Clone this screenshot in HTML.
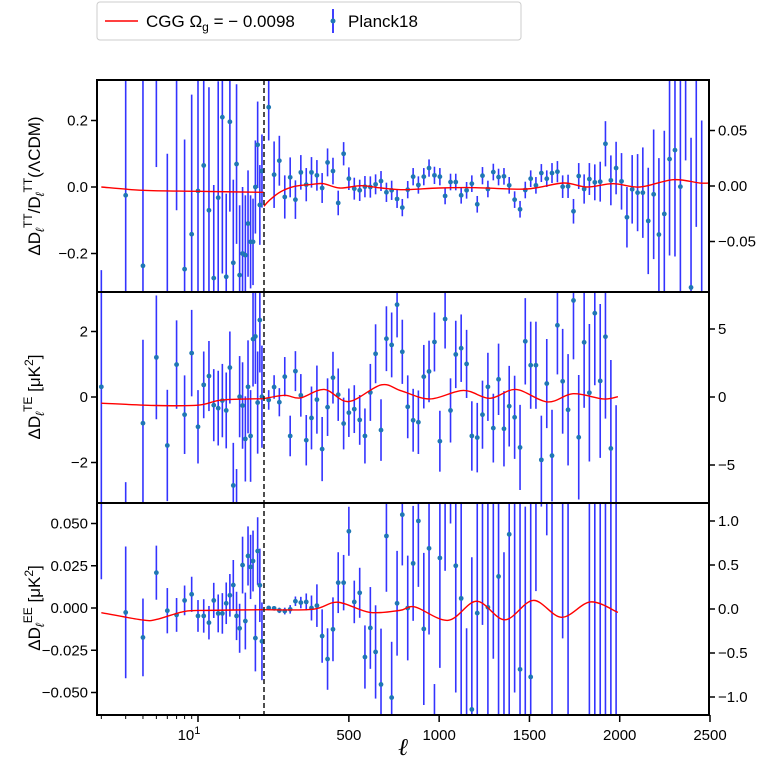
<!DOCTYPE html>
<html><head><meta charset="utf-8">
<style>
html,body{margin:0;padding:0;background:#fff;width:773px;height:765px;overflow:hidden;}
svg{display:block;overflow:hidden;font-family:"Liberation Sans","DejaVu Sans",sans-serif;}
</style></head>
<body>
<svg id="chart" width="773" height="765" viewBox="0 0 773 765" xmlns="http://www.w3.org/2000/svg">
  <defs>
    <clipPath id="clip-tt"><rect x="97" y="80" width="612" height="212"/></clipPath>
    <clipPath id="clip-te"><rect x="97" y="292" width="612" height="211"/></clipPath>
    <clipPath id="clip-ee"><rect x="97" y="503" width="612" height="212"/></clipPath>
  </defs>
  <g>
    <rect x="97" y="2" width="424" height="38" rx="3" fill="#fff" stroke="#ccc" stroke-width="1"/>
    <line x1="105" y1="21" x2="138" y2="21" stroke="red" stroke-width="1.5"/>
    <text x="146" y="27" font-size="17">CGG Ω<tspan font-size="12" dy="4">g</tspan><tspan dy="-4"> = − 0.0098</tspan></text>
    <line x1="333" y1="9" x2="333" y2="33" stroke="blue" stroke-width="1.5"/>
    <circle cx="333" cy="21" r="2.5" fill="#1f77b4"/>
    <text x="348" y="27" font-size="17">Planck18</text>
  </g>
  <g id="plots"></g>
  <text x="40" y="186" font-size="17" text-anchor="middle" transform="rotate(-90 40 186)">ΔD<tspan font-size="12" dy="4" font-style="italic">ℓ</tspan><tspan font-size="12" dy="-12">TT</tspan><tspan dy="8">/D</tspan><tspan font-size="12" dy="4" font-style="italic">ℓ</tspan><tspan font-size="12" dy="-12">TT</tspan><tspan dy="8">(ΛCDM)</tspan></text>
  <text x="40" y="397" font-size="17" text-anchor="middle" transform="rotate(-90 40 397)">ΔD<tspan font-size="12" dy="4" font-style="italic">ℓ</tspan><tspan font-size="12" dy="-12">TE</tspan><tspan dy="8"> [μK</tspan><tspan font-size="12" dy="-7">2</tspan><tspan dy="7">]</tspan></text>
  <text x="40" y="608" font-size="17" text-anchor="middle" transform="rotate(-90 40 608)">ΔD<tspan font-size="12" dy="4" font-style="italic">ℓ</tspan><tspan font-size="12" dy="-12">EE</tspan><tspan dy="8"> [μK</tspan><tspan font-size="12" dy="-7">2</tspan><tspan dy="7">]</tspan></text>
  <text x="403" y="755" font-size="24" font-style="italic" text-anchor="middle" font-family="Liberation Serif, serif">ℓ</text>
</svg>
<script>
// ---- data ----
const lLow = [2,3,4,5,6,7,8,9,10,11,12,13,14,15,16,17,18,19,20,21,22,23,24,25,26,27,28,29];
const lBins = [56,86,115,145,175,204,234,264,293,323,352,382,412,441,471,500,530,560,589,619,648,678,708,737,767,796,826,856,885,915,944,974,1004,1033,1063,1092,1122,1152,1181,1211,1240,1270,1300,1329,1359,1388,1418,1448,1477,1507,1536,1566,1596,1625,1655,1684,1714,1744,1773,1803,1832,1862,1892,1921,1951,1980,2010,2040,2069,2099,2128,2158,2188,2217,2247,2276,2306,2336,2365,2395,2424,2454];

const ttLow = [-0.45,-0.025,-0.237,0.45,-0.35,0.4,-0.247,-0.142,-0.012,0.065,-0.07,-0.274,-0.032,0.21,-0.27,0.196,-0.228,0.069,-0.265,-0.2,-0.205,-0.11,-0.165,-0.165,0.0,0.127,-0.054,0.048];
const ttLowErr = [0.2,0.6,0.6,0.39,0.45,0.47,0.39,0.42,0.5,0.45,0.37,0.28,0.35,0.47,0.25,0.27,0.25,0.24,0.21,0.2,0.18,0.16,0.14,0.13,0.14,0.13,0.12,0.11];
const ttHigh = [0.24,0.037,0.079,-0.03,0.029,-0.038,0.044,0.007,0.044,0.035,-0.003,0.074,0.048,-0.048,0.1,0.025,-0.005,-0.01,0.001,0,0.008,0.018,-0.016,-0.01,-0.036,-0.062,
-0.008,0.031,0.006,0.031,0.057,0.035,0.031,-0.027,0.015,0.015,-0.025,-0.01,0.01,-0.052,0.034,-0.006,0.045,0.03,0.032,0.005,-0.038,-0.067,-0.009,0.025,0.005,0.042,0.025,0.042,0.046,0.001,0.002,-0.073,0.033,-0.006,0.024,0.014,0.016,0.13,0.02,0.057,0.017,-0.091,-0.007,-0.017,-0.017,-0.102,-0.022,-0.143,-0.081,0.084,0.111,0.001,0.45,-0.302,0.4,-0.4];
const ttHighErr = [0.1,0.1,0.075,0.065,0.06,0.058,0.052,0.05,0.046,0.046,0.045,0.042,0.04,0.037,0.035,0.034,0.033,0.032,0.032,0.032,0.03,0.03,0.029,0.029,0.027,0.026,
0.026,0.026,0.026,0.026,0.026,0.026,0.026,0.025,0.025,0.025,0.025,0.025,0.025,0.025,0.026,0.025,0.025,0.025,0.025,0.025,0.025,0.025,0.025,0.025,0.025,0.027,0.025,0.03,0.032,0.034,0.035,0.037,0.039,0.044,0.048,0.054,0.06,0.068,0.075,0.079,0.085,0.091,0.103,0.116,0.136,0.16,0.195,0.23,0.25,0.29,0.32,0.35,0.37,0.45,0.52,0.6];

const teLow = [0.31,-5,-0.8,1.21,-1.48,0.99,-0.54,1.34,-0.91,0.37,0.64,-0.25,-0.34,-0.11,-0.41,0.9,-2.7,-4,0.01,-0.26,-1.28,0.31,-1.19,1.77,1.85,-0.17,2.35,0.01];
const teLowErr = [4,2.4,2.55,1.89,1.7,1.35,1.2,1.32,1.12,1.02,1.07,1.1,1.14,1.12,1.16,1.1,1.3,1.8,1.24,1.32,1.3,1.42,1.4,1.45,1.45,1.56,1.6,1.56];
const teHigh = [-0.09,0.305,-0.16,0.62,-1.19,0.79,0.05,-1.32,-0.64,-0.08,-1.59,-0.31,0.59,0.07,-0.81,-0.48,-0.37,-0.7,-1.19,0.14,1.32,-1.01,1.78,1.59,2.82,1.38,
-0.3,-0.71,-0.77,0.62,0.78,1.68,-1.35,2.38,-0.41,1.3,1.49,1.01,-1.19,-1.24,-0.54,0.31,-0.95,0.54,-0.97,-0.28,-0.62,-1.54,1.7,0.97,0.97,-1.92,0.41,-1.79,2.19,0.48,-0.39,2.95,-1.23,1.67,0.13,2.56,0.49,1.84,-1.57,-3.3];
const teHighErr = [0.3,0.36,0.43,0.6,0.62,0.61,0.65,0.77,0.96,1.04,0.98,0.88,0.79,0.8,0.79,0.74,0.73,0.76,0.84,0.87,0.9,0.94,0.99,0.99,1.0,0.98,
0.96,0.96,0.97,0.97,0.94,0.9,0.93,0.9,0.98,1.03,1.03,1.04,1.06,1.06,1.04,1.04,1.05,1.09,1.15,1.23,1.27,1.3,1.32,1.33,1.33,1.35,1.36,1.4,1.5,1.6,1.7,1.8,1.9,2.0,2.1,2.2,2.35,2.5,2.7,3.05];

const eeLow = [0.07,-0.0026,-0.0174,0.0209,-0.0016,-0.0041,0.0045,0.0081,-0.0047,-0.0047,-0.0087,0.0045,-0.0032,-0.0032,0.0028,0.0075,0.0136,-0.0047,-0.012,0.0254,-0.0077,0.0308,0.0243,0.0278,-0.0178,0.0337,0.0134,-0.0197];
const eeLowErr = [0.053,0.039,0.023,0.016,0.0134,0.01,0.0088,0.0104,0.0094,0.0099,0.0099,0.0104,0.0112,0.012,0.0123,0.0126,0.0148,0.0143,0.0145,0.0168,0.0168,0.0175,0.019,0.018,0.0197,0.02,0.0217,0.023];
const eeHigh = [0,-0.0002,-0.0014,-0.0018,-0.0008,0.004,0.0032,0.0036,0,0.0014,-0.0166,-0.0302,-0.0126,0.015,0.015,0.0454,0.0036,0.009,-0.029,-0.0118,-0.026,-0.0452,0.0426,-0.053,0.0028,0.0552,
0,0.0264,0.0515,-0.0124,0.0353,-0.1,0.0296,0.09,0.12,0.025,0.0057,-0.09,-0.06,-0.003,0.09,0.0004,0.08,0.0187,-0.08,0.0436,0.07,-0.0363,-0.07,-0.0408,0.15,0.2,0.19,0.1,0.22,0.14,-0.1,0.3,0.3,0.3,-0.1,0.1,-0.08,0.09,-0.1,0.1];
const eeHighErr = [0.0013,0.0013,0.0016,0.002,0.0025,0.0028,0.0034,0.005,0.0074,0.0126,0.0158,0.0182,0.0189,0.018,0.0164,0.0145,0.0126,0.0148,0.0187,0.0242,0.0276,0.033,0.033,0.033,0.031,0.03,
0.031,0.034,0.039,0.045,0.051,0.055,0.065,0.068,0.07,0.075,0.08,0.078,0.09,0.09,0.1,0.1,0.11,0.1,0.113,0.11,0.12,0.12,0.13,0.13,0.14,0.14,0.147,0.17,0.15,0.158,0.17,0.16,0.17,0.17,0.2,0.2,0.22,0.23,0.25,0.26];

// model curves
const ttModelL = [2,4,10,29.9,30,60,120,200,300,360,450,570,680,808,1000,1200,1484,1687,1816,1963,2112,2296,2444,2500];
const ttModelV = [0,-0.01,-0.013,-0.016,-0.058,-0.04,-0.015,0.002,0.008,0.01,-0.003,0.004,-0.003,-0.008,-0.003,-0.002,-0.006,0.012,0.0,0.01,0.0,0.022,0.012,0.012];
const teModelL = [2,5,10,15,29.9,30,145,230,364,499,678,790,949,1134,1281,1425,1600,1742,1908,1990];
const teModelV = [-0.19,-0.26,-0.25,-0.09,-0.05,-0.05,0.05,-0.03,0.23,-0.14,0.37,0.19,-0.06,0.2,-0.04,0.23,-0.15,0.1,-0.06,0.01];
const eeModelL = [2,4,5,8,12,29.9,30,300,438,616,783,866,1050,1207,1364,1521,1678,1838,1990];
const eeModelV = [-0.0028,-0.0071,-0.0068,-0.002,-0.0014,-0.001,-0.001,-0.0008,0.0034,-0.0026,-0.0014,0.0006,-0.0073,0.004,-0.007,0.0045,-0.0055,0.0036,-0.0026];

const ttLeftTicks = [0.2,0.0,-0.2];
const ttLeftLabels = ["0.2","0.0","−0.2"];
const ttRightTicks = [0.05,0,-0.05];
const ttRightLabels = ["0.05","0.00","−0.05"];
const teLeftTicks = [2,0,-2];
const teLeftLabels = ["2","0","−2"];
const teRightTicks = [5,0,-5];
const teRightLabels = ["5","0","−5"];
const eeLeftTicks = [0.05,0.025,0,-0.025,-0.05];
const eeLeftLabels = ["0.050","0.025","0.000","−0.025","−0.050"];
const eeRightTicks = [1,0.5,0,-0.5,-1];
const eeRightLabels = ["1.0","0.5","0.0","−0.5","−1.0"];
const xLinTicks = [500,1000,1500,2000,2500];
const xMinorTicks = [2,3,4,5,6,7,8,9,20];

// ---- scales ----
const X0 = 97, X1 = 709;
function xs(l){ return l <= 30 ? 198 + 138.3*Math.log10(l/10) : 264 + (l-30)*(446/2470); }
const panels = [
  {id:'tt', top:80, bot:292, y:v=>187 - v*332.5, yr:v=>186 - v*1110,
   l:lLow.concat(lBins), v:ttLow.concat(ttHigh), e:ttLowErr.concat(ttHighErr),
   ml:ttModelL, mv:ttModelV, lt:ttLeftTicks, ll:ttLeftLabels, rt:ttRightTicks, rl:ttRightLabels},
  {id:'te', top:292, bot:503, y:v=>397 - v*32.75, yr:v=>397 - v*13.6,
   l:lLow.concat(lBins.slice(0,66)), v:teLow.concat(teHigh), e:teLowErr.concat(teHighErr),
   ml:teModelL, mv:teModelV, lt:teLeftTicks, ll:teLeftLabels, rt:teRightTicks, rl:teRightLabels},
  {id:'ee', top:503, bot:715, y:v=>608 - v*1690, yr:v=>609 - v*88,
   l:lLow.concat(lBins.slice(0,66)), v:eeLow.concat(eeHigh), e:eeLowErr.concat(eeHighErr),
   ml:eeModelL, mv:eeModelV, lt:eeLeftTicks, ll:eeLeftLabels, rt:eeRightTicks, rl:eeRightLabels}
];

const NS = 'http://www.w3.org/2000/svg';
const root = document.getElementById('plots');
function mk(tag, attrs, parent){
  const el = document.createElementNS(NS, tag);
  for (const k in attrs) el.setAttribute(k, attrs[k]);
  (parent||root).appendChild(el);
  return el;
}
function clampY(y, p){ return Math.max(p.top, Math.min(p.bot, y)); }
function spline(pts){
  if (pts.length < 2) return '';
  let d = 'M' + pts[0][0].toFixed(2) + ' ' + pts[0][1].toFixed(2);
  for (let i=0;i<pts.length-1;i++){
    const p0 = pts[Math.max(0,i-1)], p1 = pts[i], p2 = pts[i+1], p3 = pts[Math.min(pts.length-1,i+2)];
    const c1x = p1[0] + (p2[0]-p0[0])/6, c1y = p1[1] + (p2[1]-p0[1])/6;
    const c2x = p2[0] - (p3[0]-p1[0])/6, c2y = p2[1] - (p3[1]-p1[1])/6;
    d += ' C' + c1x.toFixed(2)+' '+c1y.toFixed(2)+' '+c2x.toFixed(2)+' '+c2y.toFixed(2)+' '+p2[0].toFixed(2)+' '+p2[1].toFixed(2);
  }
  return d;
}

panels.forEach(p => {
  const g = mk('g', {});
  
  
  const clip = mk('g', {'clip-path':'url(#clip-'+p.id+')'}, g);
  
  
  for (let i=0;i<p.l.length;i++){
    const x = xs(p.l[i]);
    const y1 = clampY(p.y(p.v[i]+p.e[i]), p), y2 = clampY(p.y(p.v[i]-p.e[i]), p);
    if (y2 - y1 < 0.5) continue;
    const bar = mk('line', {x1:x, x2:x, y1:y1, y2:y2, stroke:'blue', 'stroke-width':1.6, 'stroke-opacity':0.8}, clip);
    
    
  }
  for (let i=0;i<p.l.length;i++){
    const cy = p.y(p.v[i]);
    if (cy < p.top - 3 || cy > p.bot + 3) continue;
    const pt = mk('circle', {cx:xs(p.l[i]), cy:cy, r:2.4, fill:'#1f77b4'}, clip);
    
    
  }
  const segA = [], segB = [];
  for (let i=0;i<p.ml.length;i++){
    const pt = [xs(p.ml[i]), p.y(p.mv[i])];
    if (p.ml[i] < 30) segA.push(pt); else segB.push(pt);
  }
  [segA, segB].forEach(s => {
    const c = mk('path', {d:spline(s), fill:'none', stroke:'red', 'stroke-width':1.4}, clip);
    
    
  });
  const dl = mk('line', {x1:264, x2:264, y1:p.top, y2:p.bot, stroke:'#222', 'stroke-width':1.6, 'stroke-dasharray':'5,3'}, g);
  
  
  const fr = mk('rect', {x:X0, y:p.top, width:X1-X0, height:p.bot-p.top, fill:'none', stroke:'#000', 'stroke-width':2}, g);
  
  
  p.lt.forEach((t,i) => {
    const y = p.y(t);
    const tk = mk('line', {x1:X0-6, x2:X0, y1:y, y2:y, stroke:'#000', 'stroke-width':1.5}, g);
    
    
    const tx = mk('text', {x:X0-9, y:y+5, 'font-size':15, 'text-anchor':'end'}, g);
    tx.textContent = p.ll[i];
    
    
  });
  p.rt.forEach((t,i) => {
    const y = p.yr(t);
    const tk = mk('line', {x1:X1, x2:X1+6, y1:y, y2:y, stroke:'#000', 'stroke-width':1.5}, g);
    
    
    const tx = mk('text', {x:X1+9, y:y+5, 'font-size':15, 'text-anchor':'start'}, g);
    tx.textContent = p.rl[i];
    
    
  });
});

const xg = mk('g', {});


xMinorTicks.forEach(l => {
  const t = mk('line', {x1:xs(l), x2:xs(l), y1:715, y2:719, stroke:'#000', 'stroke-width':1}, xg);
  
  
});
{
  const t = mk('line', {x1:xs(10), x2:xs(10), y1:715, y2:722, stroke:'#000', 'stroke-width':1.5}, xg);
  
  
  const tx = mk('text', {x:xs(10)-9, y:740, 'font-size':15, 'text-anchor':'middle'}, xg);
  tx.innerHTML = '10<tspan font-size="11" dy="-6">1</tspan>';
  
  
}
xLinTicks.forEach(l => {
  const x = xs(l);
  const t = mk('line', {x1:x, x2:x, y1:715, y2:722, stroke:'#000', 'stroke-width':1.5}, xg);
  
  
  const tx = mk('text', {x:x, y:740, 'font-size':15, 'text-anchor':'middle'}, xg);
  tx.textContent = String(l);
  
  
});
</script>
</body></html>
